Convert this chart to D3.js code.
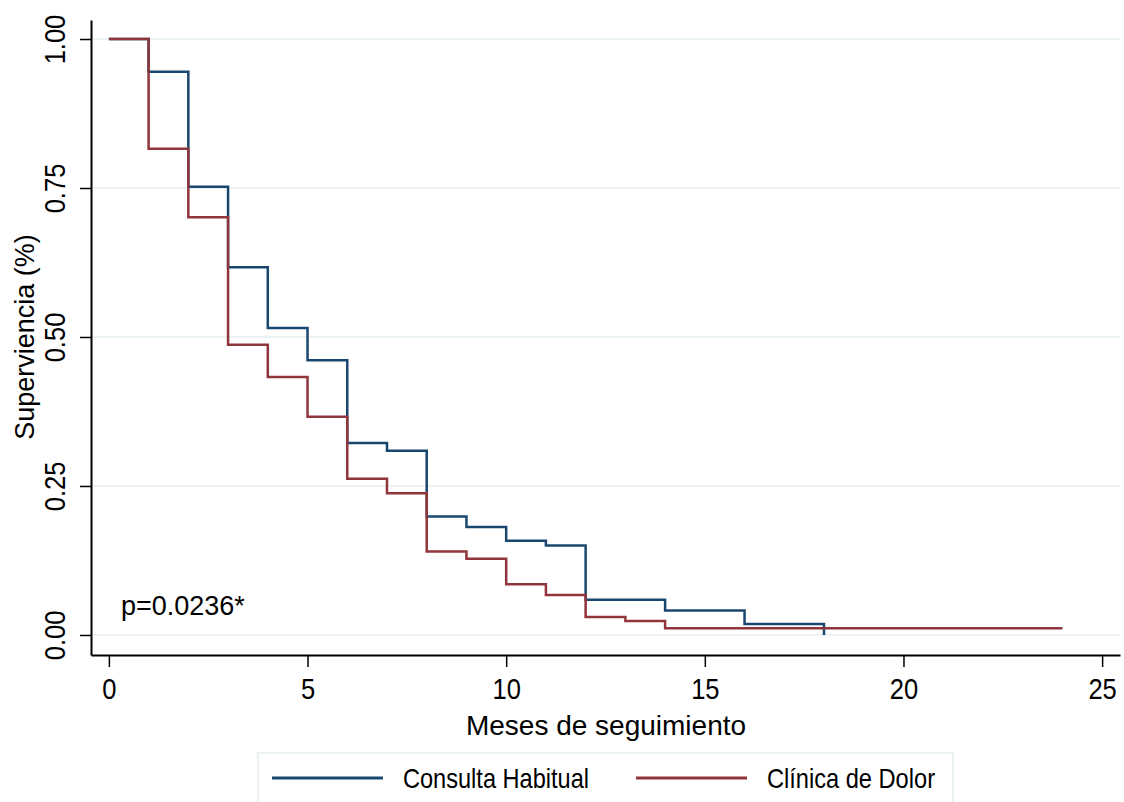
<html>
    <head>
        <script src="https://d3js.org/d3.v7.min.js"></script>
        <title>Supervivencia</title>
        <style>
            body { margin: 0; background: #fff; }
            text { font-family: "Liberation Sans", Arial, sans-serif; fill: #000; }
        </style>
    </head>
    <body>
        <div class="viz"></div>
        <script type="text/javascript">
            // Kaplan-Meier steps
            var timesHabitual = [0, 1, 2, 3, 4, 5, 6, 7, 8, 9, 10, 11, 12, 14, 16, 18, 18];
            var survHabitual  = [1, 0.945, 0.752, 0.617, 0.515, 0.461, 0.322, 0.309, 0.199, 0.181, 0.158, 0.150, 0.059, 0.041, 0.0185, 0.0185, 0];
            var timesDolor = [0, 1, 2, 3, 4, 5, 6, 7, 8, 9, 10, 11, 12, 13, 14, 24];
            var survDolor  = [1, 0.816, 0.701, 0.487, 0.433, 0.366, 0.262, 0.238, 0.140, 0.128, 0.085, 0.067, 0.030, 0.0235, 0.0112, 0.0112];
            var xTicks = [0, 5, 10, 15, 20, 25];
            var yTicks = [0, 0.25, 0.5, 0.75, 1];
            var seriesNames = ["Consulta Habitual", "Clínica de Dolor"];
            var pLabel = "p=0.0236*";

            var vizWidth = 1124;
            var vizHeight = 802;
            var blue = "#1a476f";
            var red = "#90353b";
            var grid = "#eaf2f3";

            var xScale = d3.scaleLinear().domain([-0.45, 25.45]).range([91, 1120]);
            var yScale = d3.scaleLinear().domain([-0.0336, 1.0319]).range([655, 20]);

            var svg = d3.select("div")
                        .append("svg")
                        .attr("width", vizWidth)
                        .attr("height", vizHeight);

            // gridlines
            svg.selectAll("line.grid")
                .data(yTicks)
                .enter()
                .append("line")
                .attr("class", "grid")
                .attr("x1", 92)
                .attr("x2", 1120)
                .attr("y1", function(d){ return yScale(d); })
                .attr("y2", function(d){ return yScale(d); })
                .attr("stroke", grid)
                .attr("stroke-width", 2);

            // axes
            var xAxis = svg.append("g")
                .attr("transform", "translate(0," + yScale.range()[0] + ")")
                .call(d3.axisBottom(xScale).tickValues(xTicks).tickSize(12).tickSizeOuter(0));
            xAxis.select(".domain").attr("stroke", "#000").attr("stroke-width", 2);
            xAxis.selectAll(".tick line").attr("stroke", "#000").attr("stroke-width", 1.5);
            xAxis.selectAll(".tick text")
                .attr("y", 44).attr("dy", null)
                .attr("transform", "scale(0.88,1)")
                .style("font-size", "29px");

            var yAxis = svg.append("g")
                .attr("transform", "translate(" + xScale.range()[0] + ",0)")
                .call(d3.axisLeft(yScale).tickValues(yTicks).tickSize(11).tickSizeOuter(0).tickFormat(d3.format(".2f")));
            yAxis.select(".domain").attr("stroke", "#000").attr("stroke-width", 2);
            yAxis.selectAll(".tick line").attr("stroke", "#000").attr("stroke-width", 1.5);
            yAxis.selectAll(".tick text")
                .attr("transform", "rotate(-90) scale(0.88,1)")
                .attr("x", 0).attr("y", -26).attr("dy", null)
                .attr("text-anchor", "middle")
                .style("font-size", "29px");

            svg.append("text")
                .attr("x", 606).attr("y", 735)
                .attr("text-anchor", "middle")
                .style("font-size", "28px")
                .text("Meses de seguimiento");

            svg.append("text")
                .attr("transform", "translate(34," + yScale(0.5) + ") rotate(-90)")
                .attr("text-anchor", "middle")
                .style("font-size", "27px")
                .text("Superviencia (%)");

            svg.append("text")
                .attr("x", 121).attr("y", 615)
                .style("font-size", "27px")
                .text(pLabel);

            // curves
            var line = d3.line()
                .x(function(d){ return xScale(d[0]); })
                .y(function(d){ return yScale(d[1]); })
                .curve(d3.curveStepAfter);

            svg.append("path")
                .datum(d3.zip(timesHabitual, survHabitual))
                .attr("d", line)
                .attr("fill", "none")
                .attr("stroke", blue)
                .attr("stroke-width", 2.5);

            svg.append("path")
                .datum(d3.zip(timesDolor, survDolor))
                .attr("d", line)
                .attr("fill", "none")
                .attr("stroke", red)
                .attr("stroke-width", 2.5);

            // legend
            var legend = svg.append("g");
            legend.append("rect")
                .attr("x", 258).attr("y", 753)
                .attr("width", 695).attr("height", 60)
                .attr("fill", "#fff")
                .attr("stroke", grid)
                .attr("stroke-width", 2);

            var items = legend.selectAll("g")
                .data(seriesNames)
                .enter()
                .append("g")
                .attr("transform", function(d, i){ return "translate(" + (272 + i * 364) + ",778)"; });
            items.append("line")
                .attr("x1", 0).attr("x2", 111)
                .attr("stroke", function(d, i){ return i == 0 ? blue : red; })
                .attr("stroke-width", 3);
            items.append("text")
                .attr("x", 131).attr("y", 10)
                .attr("textLength", function(d, i){ return i == 0 ? 186 : 168; })
                .attr("lengthAdjust", "spacingAndGlyphs")
                .style("font-size", "28px")
                .text(function(d){ return d; });
        </script>
    </body>
</html>
